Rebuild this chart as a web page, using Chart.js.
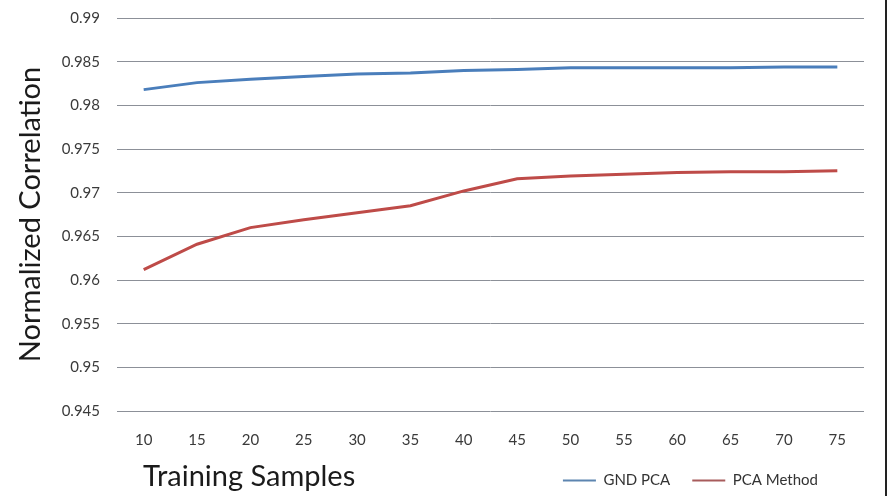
<!DOCTYPE html>
<html>
<head>
<meta charset="utf-8">
<script src="https://cdn.jsdelivr.net/npm/chart.js@4/dist/chart.umd.min.js"></script>
<style>
  html, body { margin: 0; padding: 0; background: #fff; }
  #wrap { width: 885px; height: 496px; border-right: 2px solid #222; }
</style>
</head>
<body>
<div id="wrap"><canvas id="myChart" width="885" height="496"></canvas></div>
<script>
const samples = ['10', '15', '20', '25', '30', '35', '40', '45', '50', '55', '60', '65', '70', '75'];
const gndPca = [0.9818, 0.9826, 0.9830, 0.9833, 0.9836, 0.9837, 0.9840, 0.9841, 0.9843, 0.9843, 0.9843, 0.9843, 0.9844, 0.9844];
const pcaMethod = [0.9612, 0.9641, 0.9660, 0.9669, 0.9677, 0.9685, 0.9702, 0.9716, 0.9719, 0.9721, 0.9723, 0.9724, 0.9724, 0.9725];

const blue = '#4a7ebb';
const red = '#be4b48';
const legendPad = 22;

// x title sits on the legend row; legend moved to sit left of the plot's right edge
const bottomRow = {
    id: 'bottomRow',
    afterLayout(chart) {
        const lg = chart.legend;
        if (!lg) return;
        lg.right = chart.chartArea.right - 46 + legendPad;
        lg.top = 480 - legendPad - 7;
    },
    afterDraw(chart) {
        const ctx = chart.ctx;
        ctx.save();
        ctx.font = '29px Lato';
        ctx.fillStyle = '#1b1b1b';
        ctx.textBaseline = 'middle';
        ctx.fillText('Training Samples', chart.chartArea.left + 26, 477);
        ctx.restore();
    }
};

const config = {
    type: 'line',
    data: {
        labels: samples,
        datasets: [{
            label: 'GND PCA',
            data: gndPca,
            borderColor: blue,
            backgroundColor: blue,
            borderWidth: 3,
            pointRadius: 0,
            pointBorderWidth: 2,
            pointBorderColor: '#5d85b0',
            tension: 0
        }, {
            label: 'PCA Method',
            data: pcaMethod,
            borderColor: red,
            backgroundColor: red,
            borderWidth: 3,
            pointRadius: 0,
            pointBorderWidth: 2,
            pointBorderColor: '#a85c5c',
            tension: 0
        }]
    },
    options: {
        responsive: false,
        animation: false,
        layout: { padding: { top: 18, right: 21, left: 0, bottom: 0 } },
        plugins: {
            tooltip: { enabled: false },
            legend: {
                position: 'bottom',
                align: 'end',
                labels: {
                    usePointStyle: true,
                    pointStyle: 'line',
                    pointStyleWidth: 33,
                    padding: legendPad,
                    color: '#333',
                    font: { family: 'Lato', size: 15 }
                }
            }
        },
        scales: {
            x: {
                offset: true,
                grid: { display: false, drawTicks: false },
                border: { display: false },
                ticks: { color: '#3a3a3a', padding: 20, font: { family: 'Lato', size: 15 } },
                afterFit: (s) => { s.height = 38; }
            },
            y: {
                min: 0.945,
                max: 0.99,
                grid: { color: '#8c9098', lineWidth: 1, drawTicks: false },
                border: { display: false },
                ticks: {
                    stepSize: 0.005,
                    padding: 17,
                    color: '#3a3a3a',
                    font: { family: 'Lato', size: 15 },
                    callback: (v) => Number(v.toFixed(3)).toString()
                },
                title: {
                    display: true,
                    text: 'Normalized Correlation',
                    color: '#1b1b1b',
                    font: { family: 'Lato', size: 29 },
                    padding: { top: 13, bottom: 0 }
                },
                afterFit: (s) => {
                    s.width = 117;
                    s.paddingTop = 0;
                    s.paddingBottom = 0;
                }
            }
        }
    },
    plugins: [bottomRow]
};

const myChart = new Chart(document.getElementById('myChart'), config);
</script>
</body>
</html>
